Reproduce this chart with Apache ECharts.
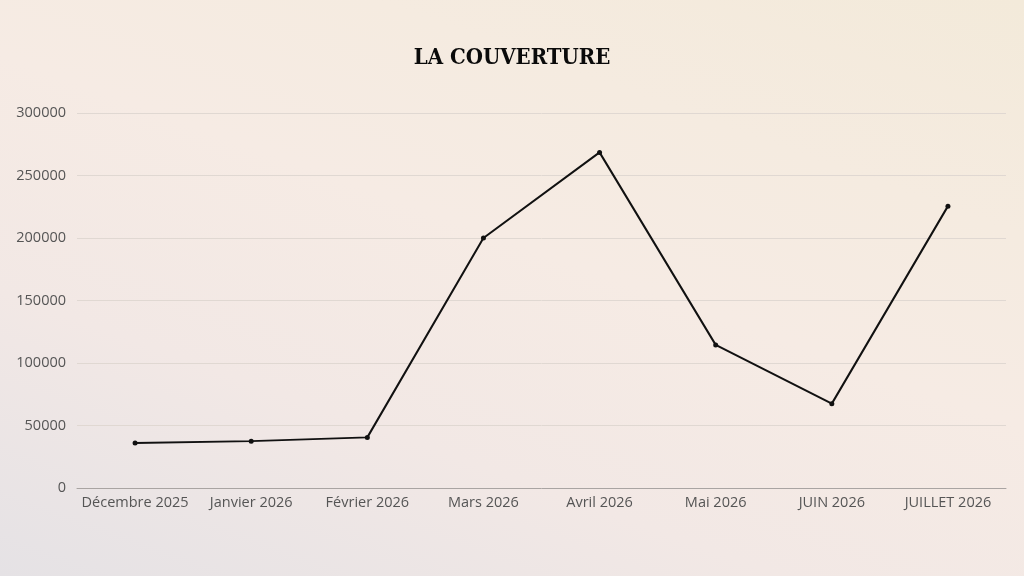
<!DOCTYPE html>
<html>
<head>
<meta charset="utf-8">
<script src="https://cdn.jsdelivr.net/npm/echarts@6/dist/echarts.min.js"></script>
<style>
html,body{margin:0;padding:0;width:1024px;height:576px;overflow:hidden;}
body{background:linear-gradient(20deg,#e5e2e5 0%,#f2e8e5 30%,#f6ebe4 55%,#f5ebe0 75%,#f3eada 100%);}
#c{width:1024px;height:576px;}
</style>
</head>
<body>
<div id="c"></div>
<script>
var titleText = 'LA COUVERTURE';
var categories = ['Décembre 2025','Janvier 2026','Février 2026','Mars 2026','Avril 2026','Mai 2026','JUIN 2026','JUILLET 2026'];
var values = [36000, 37500, 40500, 200000, 268500, 114500, 67500, 225500];
var yTicks = [0, 50000, 100000, 150000, 200000, 250000, 300000];

var chart = echarts.init(document.getElementById('c'), null, {renderer:'canvas'});
chart.setOption({
  backgroundColor: 'transparent',
  animation: false,
  title: {
    text: titleText,
    left: 'center',
    top: 42,
    textStyle: {fontFamily:'DejaVu Serif Condensed', fontWeight:'bold', fontSize:22, color:'#0a0a0a'}
  },
  grid: {left:77, right:18, top:113, bottom:88, containLabel:false},
  xAxis: {
    type:'category',
    data: categories,
    boundaryGap: true,
    axisLine: {lineStyle:{color:'#a9a4a2', width:1}},
    axisTick: {show:false},
    axisLabel: {fontFamily:'Open Sans', fontSize:14.5, color:'#555', margin:7, interval:0}
  },
  yAxis: {
    type:'value',
    min: yTicks[0],
    max: yTicks[yTicks.length-1],
    interval: 50000,
    axisLine:{show:false},
    axisTick:{show:false},
    splitLine:{lineStyle:{color:'#e0d8d2', width:1}},
    axisLabel:{fontFamily:'Open Sans', fontSize:14.5, color:'#555', margin:11, formatter:function(v){return String(v);}}
  },
  series: [{
    type:'line',
    data: values,
    symbol:'circle',
    symbolSize:5,
    lineStyle:{color:'#111', width:2},
    itemStyle:{color:'#111'}
  }]
});
</script>
</body>
</html>
